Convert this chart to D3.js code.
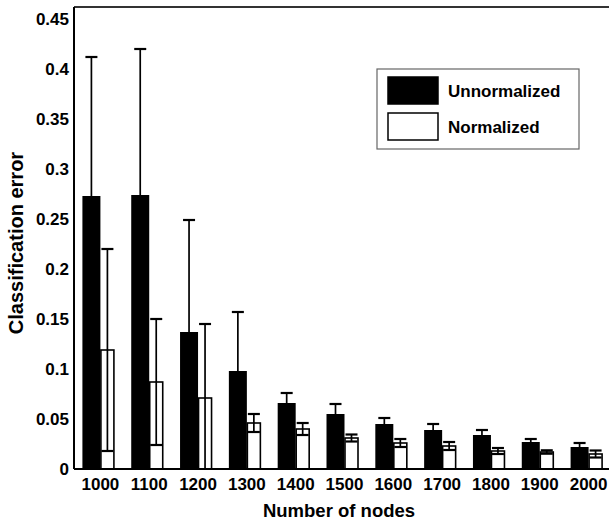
<!DOCTYPE html>
<head>
<meta charset="utf-8">
<title>Classification error vs number of nodes</title>
<script src="https://d3js.org/d3.v7.min.js"></script>
<style>
body { margin: 0; background: #fff; }
text { font-family: "Liberation Sans", Arial, Helvetica, sans-serif; font-weight: bold; fill: #000; }
</style>
</head>
<body>
<div id="container"></div>
<script>
// ---- data ----
const nodes = ["1000","1100","1200","1300","1400","1500","1600","1700","1800","1900","2000"];
const unnormMean = [0.273, 0.274, 0.137, 0.098, 0.066, 0.055, 0.045, 0.039, 0.034, 0.027, 0.022];
const unnormErr  = [0.139, 0.146, 0.112, 0.059, 0.010, 0.010, 0.006, 0.006, 0.005, 0.003, 0.004];
const normMean   = [0.119, 0.087, 0.071, 0.046, 0.040, 0.031, 0.026, 0.023, 0.018, 0.017, 0.015];
const normErr    = [0.101, 0.063, 0.074, 0.009, 0.006, 0.0035, 0.004, 0.004, 0.003, 0.0017, 0.0035];
const yTicks = [0, 0.05, 0.1, 0.15, 0.2, 0.25, 0.3, 0.35, 0.4, 0.45];
const seriesNames = ["Unnormalized", "Normalized"];

const width = 609, height = 523;
const plotL = 74, plotR = 609, plotT = 7, plotB = 469;

const svg = d3.select("#container").append("svg")
    .attr("width", width)
    .attr("height", height);

// scales
const x = d3.scaleBand().domain(nodes).range([76, 613]).padding(0);
const y = d3.scaleLinear().domain([0, 0.462]).range([plotB, plotT]);

const blackW = 18, whiteW = 13;

const groups = nodes.map((n, i) => ({
  n: n,
  um: unnormMean[i], ue: unnormErr[i],
  nm: normMean[i], ne: normErr[i]
}));

const plot = svg.append("g");
plot.append("clipPath").attr("id", "clip")
  .append("rect").attr("x", plotL).attr("y", plotT).attr("width", plotR - plotL).attr("height", plotB - plotT);

const bars = plot.append("g").attr("clip-path", "url(#clip)");

const g = bars.selectAll("g.grp").data(groups).enter().append("g").attr("class", "grp");

// unnormalized (black)
g.append("rect")
  .attr("x", d => x(d.n) + x.bandwidth() / 2 - blackW)
  .attr("y", d => y(d.um))
  .attr("width", blackW)
  .attr("height", d => plotB - y(d.um))
  .attr("fill", "#000");

// normalized (white)
g.append("rect")
  .attr("x", d => x(d.n) + x.bandwidth() / 2 + 0.5)
  .attr("y", d => y(d.nm))
  .attr("width", whiteW)
  .attr("height", d => plotB - y(d.nm))
  .attr("fill", "#fff")
  .attr("stroke", "#000")
  .attr("stroke-width", 1.6);

// error bars
function errBar(sel, cx, mean, err) {
  const capW = 6;
  sel.append("line")
    .attr("x1", cx).attr("x2", cx)
    .attr("y1", d => y(mean(d) - err(d))).attr("y2", d => y(mean(d) + err(d)))
    .attr("stroke", "#000").attr("stroke-width", 1.7);
  sel.append("line")
    .attr("x1", d => cx(d) - capW).attr("x2", d => cx(d) + capW)
    .attr("y1", d => y(mean(d) + err(d))).attr("y2", d => y(mean(d) + err(d)))
    .attr("stroke", "#000").attr("stroke-width", 2.2);
  sel.append("line")
    .attr("x1", d => cx(d) - capW).attr("x2", d => cx(d) + capW)
    .attr("y1", d => y(mean(d) - err(d))).attr("y2", d => y(mean(d) - err(d)))
    .attr("stroke", "#000").attr("stroke-width", 2.2);
}
errBar(g, d => x(d.n) + x.bandwidth() / 2 - blackW / 2, d => d.um, d => d.ue);
errBar(g, d => x(d.n) + x.bandwidth() / 2 + 0.5 + whiteW / 2, d => d.nm, d => d.ne);

// frame: left, top and bottom lines
svg.append("line").attr("x1", plotL).attr("x2", plotR).attr("y1", plotT).attr("y2", plotT)
  .attr("stroke", "#333").attr("stroke-width", 2);
svg.append("line").attr("x1", plotL).attr("x2", plotR).attr("y1", plotB).attr("y2", plotB)
  .attr("stroke", "#000").attr("stroke-width", 2);
svg.append("line").attr("x1", plotL).attr("x2", plotL).attr("y1", plotT).attr("y2", plotB)
  .attr("stroke", "#000").attr("stroke-width", 2);

// axes (labels only, no tick marks)
const yAxis = d3.axisLeft(y).tickValues(yTicks).tickSize(0).tickPadding(4)
  .tickFormat(d => d === 0 ? "0" : String(+d.toFixed(2)));
svg.append("g").attr("transform", "translate(" + (plotL - 1) + ",0)")
  .call(yAxis)
  .call(a => a.select(".domain").remove())
  .selectAll("text").style("font-size", "17px").style("font-family", null);

const xAxis = d3.axisBottom(x).tickSize(0).tickPadding(9);
svg.append("g").attr("transform", "translate(0," + plotB + ")")
  .call(xAxis)
  .call(a => a.select(".domain").remove())
  .selectAll("text").style("font-size", "17px").style("font-family", null);

// axis titles
svg.append("text")
  .attr("x", 339).attr("y", 517)
  .attr("text-anchor", "middle")
  .style("font-size", "18.5px")
  .text("Number of nodes");

svg.append("text")
  .attr("transform", "translate(23,243) rotate(-90)")
  .attr("text-anchor", "middle")
  .style("font-size", "20px")
  .text("Classification error");

// legend
const legend = svg.append("g");
legend.append("rect")
  .attr("x", 377).attr("y", 69).attr("width", 202).attr("height", 80)
  .attr("fill", "#fff").attr("stroke", "#666").attr("stroke-width", 1.2);
const fills = ["#000", "#fff"];
seriesNames.forEach((s, i) => {
  legend.append("rect")
    .attr("x", 388).attr("y", 77 + i * 36).attr("width", 50).attr("height", 27)
    .attr("fill", fills[i]).attr("stroke", "#000").attr("stroke-width", 1.5);
  legend.append("text")
    .attr("x", 448).attr("y", 97 + i * 36)
    .style("font-size", "17px")
    .text(s);
});
</script>
</body>
